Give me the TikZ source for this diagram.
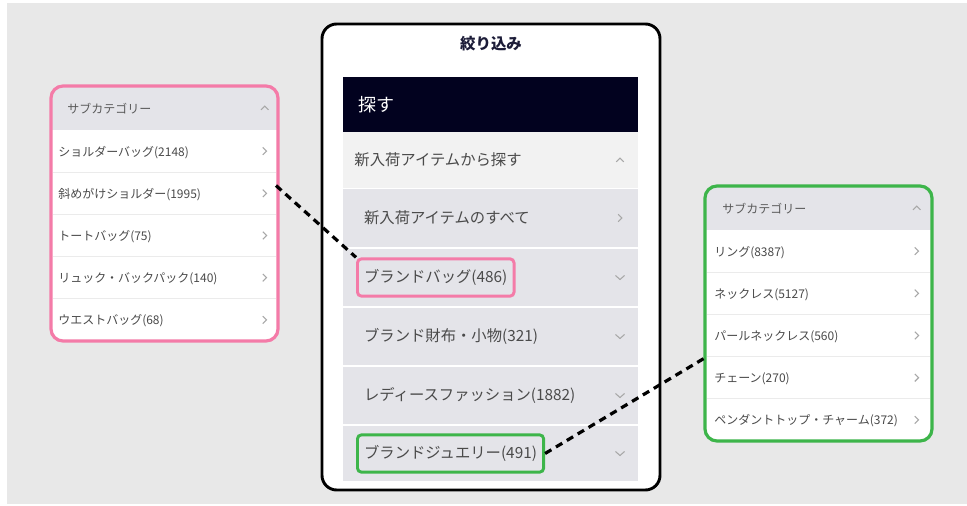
\documentclass[tikz,border=0pt]{standalone}
\usepackage{fontspec}
\setmainfont{Noto Sans CJK JP}
\usetikzlibrary{positioning}

\definecolor{bgray}{HTML}{E8E8E8}
\definecolor{navy}{HTML}{02021F}
\definecolor{titlec}{HTML}{1C1C38}
\definecolor{rowlight}{HTML}{F2F2F2}
\definecolor{rowgray}{HTML}{E4E4E9}
\definecolor{txtgray}{HTML}{4A4A4A}
\definecolor{hdrgray}{HTML}{5A5A5A}
\definecolor{chevgray}{HTML}{A8A8A8}
\definecolor{sepgray}{HTML}{EBEBEB}
\definecolor{pinkc}{HTML}{F47BA8}
\definecolor{greenc}{HTML}{3DB54A}

\tikzset{
  phone/.style={draw=black, fill=white, line width=2.2pt, rounded corners=11pt,
    minimum width=253.5pt, minimum height=349.5pt, inner sep=0pt},
  mrow/.style={anchor=north west, minimum width=221.25pt, inner sep=0pt, outer sep=0pt, fill=rowgray},
  mtext/.style={inner xsep=5pt, inner ysep=0pt, minimum height=28pt, text=txtgray,
    font=\fontsize{11.5}{12}\selectfont, rounded corners=3pt, line width=2.2pt},
  panel/.style={anchor=north west, minimum width=170.25pt, minimum height=191.25pt,
    inner sep=0pt, outer sep=0pt, rounded corners=9pt, line width=2.4pt, fill=white,
    path picture={\fill[rowgray, sharp corners] (path picture bounding box.north west)
      rectangle ([yshift=-33pt]path picture bounding box.north east);}},
  prow/.style={anchor=north west, minimum width=167.25pt, minimum height=31.65pt, inner sep=0pt, outer sep=0pt},
  ptext/.style={inner sep=0pt, yshift=-0.8pt, text=txtgray, font=\fontsize{9}{10}\selectfont},
  chev/.style={draw=chevgray, line width=0.8pt},
  link/.style={draw=black, line width=2.4pt, dash pattern=on 5.5pt off 4pt},
  chevright/.pic={\draw[chev] (-1.4pt,2.8pt) -- (1.4pt,0pt) -- (-1.4pt,-2.8pt);},
  chevup/.pic={\draw[chev] (-2.8pt,-1.4pt) -- (0pt,1.4pt) -- (2.8pt,-1.4pt);},
  chevdown/.pic={\draw[chev] (-3.4pt,1.5pt) -- (0pt,-1.5pt) -- (3.4pt,1.5pt);}
}

\begin{document}
\begin{tikzpicture}[x=0.75pt, y=-0.75pt]
  \useasboundingbox (0,0) rectangle (967,506);
  \fill[bgray] (7,3) rectangle (967,504);

  % middle screen
  \node[phone] (ph) at (491,257) {};
  \node[font=\bfseries\fontsize{11.6}{12}\selectfont, text=titlec] (ttl) at (491,44) {絞り込み};

  \node[mrow, fill=navy, minimum height=41.25pt] (hdr) at (343,77) {};
  \node[mtext, text=white, font=\fontsize{13.5}{14}\selectfont, right=5.5pt of hdr.west] (hdrt) {探す};

  \node[mrow, fill=rowlight, minimum height=42pt] (r1) at (343,132) {};
  \node[mtext, right=2.5pt of r1.west] (r1t) {新入荷アイテムから探す};
  \pic at ([xshift=-13.5pt]r1.east) {chevup};

  \foreach \n/\ya/\yb in {r2/189/247, r3/249/306, r4/308/365, r5/367/424, r6/426/481}
    \node[mrow, minimum height={(\yb-\ya)*0.75pt}] (\n) at (343,\ya) {};

  \node[mtext, right=9.75pt of r2.west] (r2t) {新入荷アイテムのすべて};
  \node[mtext, draw=pinkc, right=9.75pt of r3.west] (bag) {ブランドバッグ(486)};
  \node[mtext, right=9.75pt of r4.west] (r4t) {ブランド財布・小物(321)};
  \node[mtext, right=9.75pt of r5.west] (r5t) {レディースファッション(1882)};
  \node[mtext, draw=greenc, right=9.75pt of r6.west] (jew) {ブランドジュエリー(491)};

  \pic at ([xshift=-13.5pt]r2.east) {chevright};
  \foreach \n in {r3,r4,r5,r6}
    \pic at ([xshift=-13.5pt]\n.east) {chevdown};

  % left panel: bags
  \node[panel, draw=pinkc] (lp) at (51,86) {};
  \node[prow, minimum height=33pt] (lph) at (53,86) {};
  \node[ptext, text=hdrgray, right=10.5pt of lph.west] (lpht) {サブカテゴリー};
  \pic at ([xshift=-8.5pt]lph.east) {chevup};
  \foreach \i/\txt in {1/ショルダーバッグ(2148), 2/斜めがけショルダー(1995), 3/トートバッグ(75),
      4/リュック・バックパック(140), 5/ウエストバッグ(68)} {
    \node[prow] (lp\i) at (53,{130+42.2*(\i-1)}) {};
    \node[ptext, right=3.75pt of lp\i.west] (lt\i) {\txt};
    \pic at ([xshift=-8.5pt]lp\i.east) {chevright};
  }
  \foreach \i in {2,...,5}
    \draw[sepgray, line width=0.8pt] (lp\i.north west) -- (lp\i.north east);

  % right panel: jewellery
  \node[panel, draw=greenc] (rp) at (705,186) {};
  \node[prow, minimum height=33pt] (rph) at (707,186) {};
  \node[ptext, text=hdrgray, right=11.25pt of rph.west] (rpht) {サブカテゴリー};
  \pic at ([xshift=-10pt]rph.east) {chevup};
  \foreach \i/\txt in {1/リング(8387), 2/ネックレス(5127), 3/パールネックレス(560),
      4/チェーン(270), 5/ペンダントトップ・チャーム(372)} {
    \node[prow] (rp\i) at (707,{230+42.2*(\i-1)}) {};
    \node[ptext, right=5.25pt of rp\i.west] (rt\i) {\txt};
    \pic at ([xshift=-10pt]rp\i.east) {chevright};
  }
  \foreach \i in {2,...,5}
    \draw[sepgray, line width=0.8pt] (rp\i.north west) -- (rp\i.north east);

  % links
  \draw[link] ([yshift=-10pt]lp2.north east) -- (bag.north west);
  \draw[link] (jew.east) -- (rp3.south west);
\end{tikzpicture}
\end{document}
